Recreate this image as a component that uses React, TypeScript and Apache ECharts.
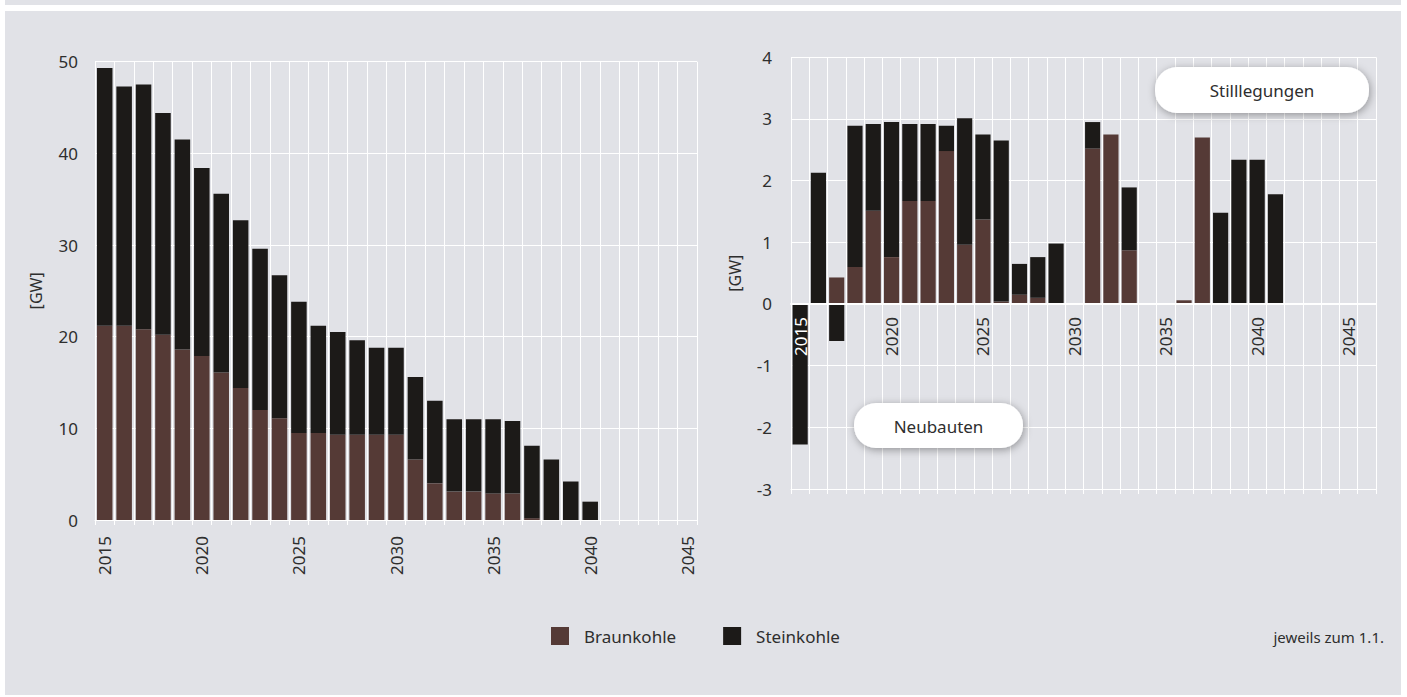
import React, { useEffect, useRef } from 'react';
import * as echarts from 'echarts';

const yearsLeft = ['2015','2016','2017','2018','2019','2020','2021','2022','2023','2024','2025','2026','2027','2028','2029','2030','2031','2032','2033','2034','2035','2036','2037','2038','2039','2040','2041','2042','2043','2044','2045'];
const braunLeft = [21.2,21.2,20.8,20.2,18.6,17.9,16.1,14.4,12.0,11.1,9.5,9.5,9.3,9.3,9.3,9.3,6.6,4.0,3.1,3.1,2.9,2.9,0.2,0,0,0,0,0,0,0,0];
const steinLeft = [28.1,26.1,26.7,24.2,22.9,20.5,19.5,18.3,17.6,15.6,14.3,11.7,11.2,10.3,9.5,9.5,9.0,9.0,7.9,7.9,8.1,7.9,7.9,6.6,4.2,2.0,0,0,0,0,0];

const yearsRight = ['2015','2016','2017','2018','2019','2020','2021','2022','2023','2024','2025','2026','2027','2028','2029','2030','2031','2032','2033','2034','2035','2036','2037','2038','2039','2040','2041','2042','2043','2044','2045','2046'];
const braunRight = [0,0,0.43,0.60,1.51,0.76,1.67,1.67,2.48,0.96,1.37,0.04,0.15,0.10,0.01,0.01,2.52,2.75,0.87,0.01,0.01,0.06,2.70,0,0,0,0,0,0,0,0,0];
const steinRight = [-2.28,2.13,-0.60,2.29,1.41,2.19,1.25,1.25,0.41,2.05,1.38,2.61,0.50,0.66,0.97,0,0.43,0,1.02,0,0,0,0,1.48,2.34,2.34,1.78,0,0,0,0,0];

const leftTicks = [0, 10, 20, 30, 40, 50];
const rightTicks = [-3, -2, -1, 0, 1, 2, 3, 4];

const BRAUN = '#553a36';
const STEIN = '#1c1a18';
const TEXT = '#2e2e2e';
const FONT = 'Noto Sans';

const RIGHT_TOP = 57.3;
const RIGHT_H = 431.7;

export default function App() {
  const ref = useRef<HTMLDivElement>(null);
  useEffect(() => {
    document.body.style.margin = '0';
    const chart = echarts.init(ref.current!, undefined, { renderer: 'svg' });
    const white = { color: '#ffffff', width: 1 };
    const rMin = rightTicks[0];
    const rMax = rightTicks[rightTicks.length - 1];
    // distance (px) from the bottom of the right plot up to its zero line
    const zeroLift = (RIGHT_H * (0 - rMin)) / (rMax - rMin);
    const option: any = {
      animation: false,
      backgroundColor: 'transparent',
      textStyle: { fontFamily: FONT },
      grid: [
        { left: 95, top: 61.7, width: 602, height: 458.3, containLabel: false },
        { left: 791, top: RIGHT_TOP, width: 585, height: RIGHT_H, containLabel: false },
      ],
      legend: {
        data: ['Braunkohle', 'Steinkohle'],
        left: 546,
        top: 622,
        itemWidth: 18,
        itemHeight: 18,
        itemGap: 47,
        icon: 'rect',
        textStyle: { color: TEXT, fontSize: 17, fontFamily: FONT, padding: [0, 0, 0, 10] },
      },
      xAxis: [
        {
          gridIndex: 0,
          type: 'category',
          data: yearsLeft,
          axisLine: { show: true, lineStyle: white },
          axisTick: { show: true, interval: 0, length: 5, lineStyle: white },
          axisLabel: { interval: 4, rotate: 90, margin: 16, color: TEXT, fontSize: 17, fontFamily: FONT },
          splitLine: { show: true, interval: 0, lineStyle: white },
        },
        {
          gridIndex: 1,
          type: 'category',
          position: 'bottom',
          offset: -zeroLift,
          data: yearsRight,
          axisLine: { show: true, onZero: false, lineStyle: { color: '#ffffff', width: 2 } },
          axisTick: { show: false },
          axisLabel: {
            interval: 4,
            rotate: 90,
            margin: 13,
            color: TEXT,
            fontSize: 17,
            fontFamily: FONT,
            formatter: (v: string) => (v === '2015' ? '{w|' + v + '}' : v),
            rich: { w: { color: '#ffffff', fontSize: 17, fontFamily: FONT } },
          },
          splitLine: { show: false },
          z: 5,
        },
        {
          gridIndex: 1,
          type: 'category',
          position: 'bottom',
          data: yearsRight,
          axisLine: { show: true, onZero: false, lineStyle: white },
          axisTick: { show: true, interval: 0, length: 5, lineStyle: white },
          axisLabel: { show: false },
          splitLine: { show: true, interval: 0, lineStyle: white },
        },
      ],
      yAxis: [
        {
          gridIndex: 0,
          type: 'value',
          min: leftTicks[0],
          max: leftTicks[leftTicks.length - 1],
          interval: 10,
          axisLine: { show: false },
          axisTick: { show: false },
          axisLabel: { margin: 17, color: TEXT, fontSize: 17, fontFamily: FONT },
          splitLine: { show: true, lineStyle: white },
          name: '[GW]',
          nameLocation: 'middle',
          nameRotate: 90,
          nameGap: 51,
          nameTextStyle: { color: TEXT, fontSize: 16, fontFamily: FONT },
        },
        {
          gridIndex: 1,
          type: 'value',
          min: rMin,
          max: rMax,
          interval: 1,
          axisLine: { show: false },
          axisTick: { show: false },
          axisLabel: { margin: 19, color: TEXT, fontSize: 17, fontFamily: FONT },
          splitLine: { show: true, lineStyle: white },
          name: '[GW]',
          nameLocation: 'middle',
          nameRotate: 90,
          nameGap: 48,
          nameTextStyle: { color: TEXT, fontSize: 16, fontFamily: FONT },
        },
      ],
      series: [
        { type: 'bar', name: 'Braunkohle', stack: 'L', xAxisIndex: 0, yAxisIndex: 0, data: braunLeft, barCategoryGap: '20%', itemStyle: { color: BRAUN } },
        { type: 'bar', name: 'Steinkohle', stack: 'L', xAxisIndex: 0, yAxisIndex: 0, data: steinLeft, barCategoryGap: '20%', itemStyle: { color: STEIN } },
        { type: 'bar', name: 'Braunkohle', stack: 'R', xAxisIndex: 1, yAxisIndex: 1, data: braunRight, barCategoryGap: '17%', itemStyle: { color: BRAUN } },
        { type: 'bar', name: 'Steinkohle', stack: 'R', xAxisIndex: 1, yAxisIndex: 1, data: steinRight, barCategoryGap: '17%', itemStyle: { color: STEIN } },
      ],
      graphic: [
        {
          type: 'group',
          children: [
            {
              type: 'rect',
              shape: { x: 854, y: 403, width: 169, height: 45, r: 22 },
              style: { fill: '#ffffff', shadowBlur: 8, shadowColor: 'rgba(0,0,0,0.35)', shadowOffsetX: 1, shadowOffsetY: 2 },
              z: 100,
            },
            {
              type: 'text',
              x: 938.5,
              y: 426,
              style: { text: 'Neubauten', fill: TEXT, fontSize: 17, fontFamily: FONT, align: 'center', verticalAlign: 'middle' },
              z: 101,
            },
            {
              type: 'rect',
              shape: { x: 1155, y: 67, width: 214, height: 46, r: 22 },
              style: { fill: '#ffffff', shadowBlur: 8, shadowColor: 'rgba(0,0,0,0.35)', shadowOffsetX: 1, shadowOffsetY: 2 },
              z: 100,
            },
            {
              type: 'text',
              x: 1262,
              y: 90,
              style: { text: 'Stilllegungen', fill: TEXT, fontSize: 17, fontFamily: FONT, align: 'center', verticalAlign: 'middle' },
              z: 101,
            },
            {
              type: 'text',
              x: 1384,
              y: 637,
              style: { text: 'jeweils zum 1.1.', fill: TEXT, fontSize: 15, fontFamily: FONT, align: 'right', verticalAlign: 'middle' },
              z: 101,
            },
          ],
        },
      ],
    };
    chart.setOption(option);
    return () => chart.dispose();
  }, []);

  return (
    <div style={{ position: 'relative', width: 1407, height: 697, background: '#ffffff', overflow: 'hidden' }}>
      <div style={{ position: 'absolute', left: 5, top: 0, width: 1396, height: 5, background: '#e1e2e7' }} />
      <div style={{ position: 'absolute', left: 5, top: 11, width: 1396, height: 684, background: '#e1e2e7' }} />
      <div ref={ref} style={{ position: 'absolute', left: 0, top: 0, width: 1407, height: 697 }} />
    </div>
  );
}
